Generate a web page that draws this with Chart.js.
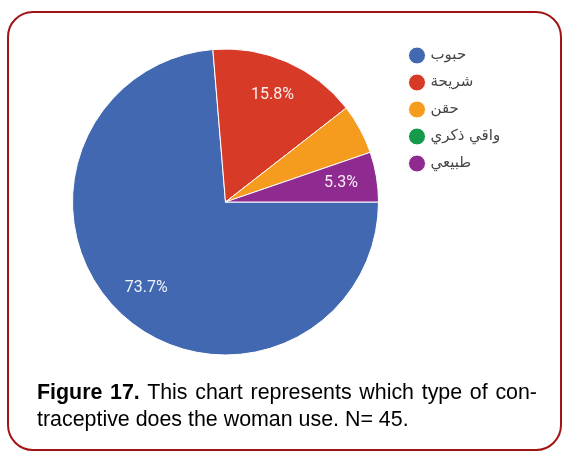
<!DOCTYPE html>
<html>
<head>
<meta charset="utf-8">
<script src="https://cdn.jsdelivr.net/npm/chart.js@4/dist/chart.umd.min.js"></script>
<style>
  html, body { margin: 0; padding: 0; background: #fff; }
  body { width: 572px; height: 467px; position: relative; overflow: hidden; }
  #frame {
    position: absolute; left: 7px; top: 11px; width: 551px; height: 436px;
    border: 2.5px solid #a11414; border-radius: 26px;
  }
  #wrap { position: absolute; left: 0; top: 0; width: 572px; height: 467px; }
  #caption {
    position: absolute; left: 37px; top: 379px; width: 500px;
    font-family: "Liberation Sans", Arial, sans-serif; font-size: 21.4px; line-height: 27px; color: #000;
  }
  #caption .l1 { display: block; white-space: nowrap; text-align: justify; text-align-last: justify; }
</style>
</head>
<body>
<div id="frame"></div>
<div id="wrap"><canvas id="pie"></canvas></div>
<div id="caption">
  <span class="l1"><b>Figure 17.</b> This chart represents which type of con-</span>
  <span>traceptive does the woman use. N= 45.</span>
</div>
<script>
/* datos del pie */
const categories = ["حبوب", "شريحة", "حقن", "واقي ذكري", "طبيعي"];
const counts = [14, 3, 1, 0, 1];
const sliceLabels = ["73.7%", "15.8%", "", "", "5.3%"];
const sliceColors = ["#4368b2", "#d73b28", "#f59b1d", "#15994b", "#8f2a90"];

/* etiquetas blancas dentro de cada rebanada */
const pctLabels = {
  id: "pctLabels",
  afterDatasetsDraw(chart) {
    const c = chart.ctx;
    const meta = chart.getDatasetMeta(0);
    c.save();
    c.font = "16px Roboto, 'DejaVu Sans', sans-serif";
    c.fillStyle = "rgba(255, 255, 255, 0.92)";
    c.textAlign = "center";
    c.textBaseline = "middle";
    meta.data.forEach((arc, i) => {
      if (!sliceLabels[i]) return;
      const p = arc.getProps(["x", "y", "startAngle", "endAngle", "outerRadius"], true);
      const mid = (p.startAngle + p.endAngle) / 2;
      const r = p.outerRadius * 0.765;
      c.fillText(sliceLabels[i], p.x + Math.cos(mid) * r, p.y + Math.sin(mid) * r);
    });
    c.restore();
  },
};

const ctx = document.getElementById("pie").getContext("2d");
const pie = new Chart(ctx, {
  type: "pie",
  data: {
    labels: categories,
    datasets: [
      {
        data: counts,
        backgroundColor: sliceColors,
        borderColor: "#ffffff",
        borderWidth: 1,
        radius: 153,
      },
    ],
  },
  options: {
    responsive: true,
    maintainAspectRatio: false,
    animation: false,
    rotation: 90,
    layout: {
      padding: { left: 52, top: 36, bottom: 99, right: 80 },
    },
    plugins: {
      legend: {
        position: "right",
        align: "start",
        labels: {
          usePointStyle: true,
          pointStyle: "circle",
          boxWidth: 12,
          boxHeight: 12,
          padding: 12,
          color: "#454545",
          font: { size: 15, family: "'DejaVu Sans', sans-serif" },
        },
      },
      tooltip: { enabled: false },
    },
  },
  plugins: [pctLabels],
});

// ajustar para que la leyenda empiece en x = 399
const legendLeft = 399;
pie.options.layout.padding.right += pie.legend.left - legendLeft;
pie.update();
</script>
</body>
</html>
